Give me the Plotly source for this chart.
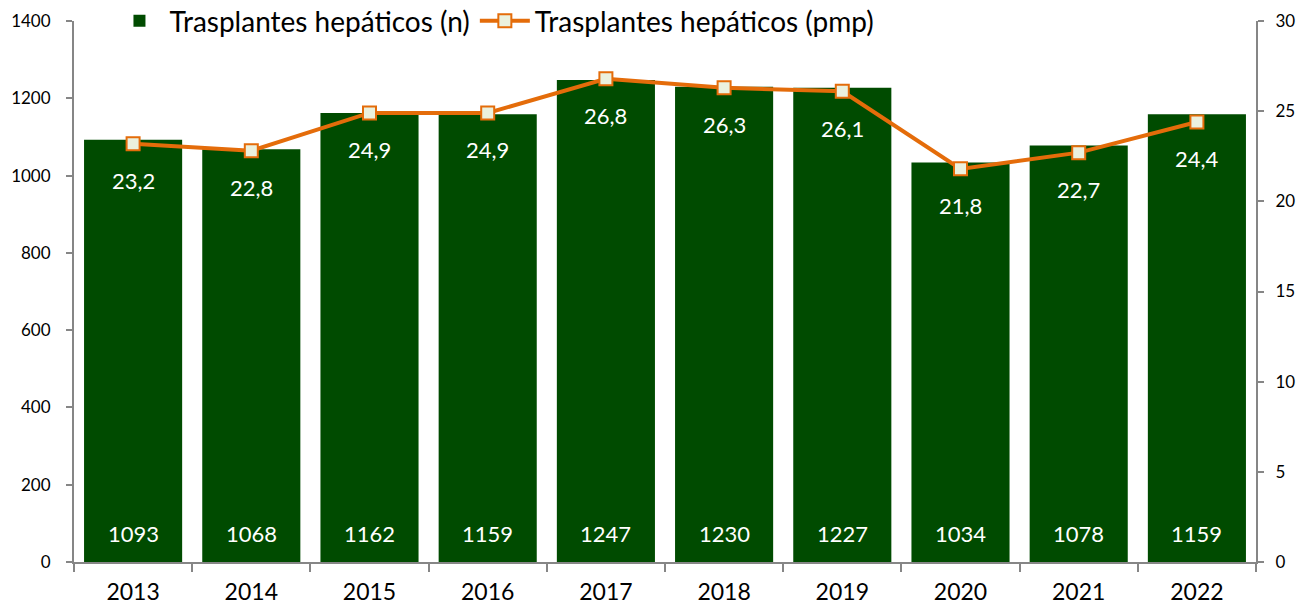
""" Trasplantes hepáticos - barras + línea pmp """

import plotly.graph_objs as go

anios = ['2013', '2014', '2015', '2016', '2017', '2018', '2019', '2020', '2021', '2022']
trasplantes_n = [1093, 1068, 1162, 1159, 1247, 1230, 1227, 1034, 1078, 1159]
trasplantes_pmp = [23.2, 22.8, 24.9, 24.9, 26.8, 26.3, 26.1, 21.8, 22.7, 24.4]

verde = 'rgb(0,75,0)'
naranja = '#E46C0A'
gris = '#868686'
fuente = 'Lato, Carlito, Calibri, sans-serif'

fig = go.Figure()

fig.add_trace(go.Bar(x=anios, y=trasplantes_n, name='Trasplantes hepáticos (n)',
                     marker_color=verde, marker_line_width=0))

fig.add_trace(go.Scatter(x=anios, y=trasplantes_pmp, name='Trasplantes hepáticos (pmp)',
                         yaxis='y2', mode='lines+markers',
                         line=dict(color=naranja, width=4),
                         marker=dict(symbol='square', size=13, color='#EBF1DE',
                                     line=dict(color=naranja, width=2))))

# x como índice de categoría: un texto '2013' se tomaría como índice 2013
# etiquetas de las barras (en la base, en blanco)
for i, n in enumerate(trasplantes_n):
    fig.add_annotation(x=i, y=0, xref='x', yref='y', text=str(n),
                       showarrow=False, yshift=29,
                       font=dict(color='white', size=22, family=fuente))

# etiquetas de la línea (debajo de cada punto, en blanco)
for i, v in enumerate(trasplantes_pmp):
    fig.add_annotation(x=i, y=v, xref='x', yref='y2',
                       text=('%.1f' % v).replace('.', ','),
                       showarrow=False, yshift=-37,
                       font=dict(color='white', size=22, family=fuente))

fig.update_layout(
    width=1313, height=610,
    margin=dict(l=74, r=57, t=21, b=48, autoexpand=False),
    paper_bgcolor='white', plot_bgcolor='white',
    font=dict(family=fuente, color='black'),
    bargap=0.17,
    showlegend=True,
    legend=dict(orientation='h', x=0.03, y=1.0, xanchor='left', yanchor='middle',
                font=dict(size=28, family=fuente), bgcolor='rgba(0,0,0,0)',
                itemwidth=50, traceorder='normal'),
    xaxis=dict(type='category', range=[-0.5, 9.5], showline=True, linecolor=gris,
               linewidth=2, ticks='outside', tickcolor=gris, ticklen=8, tickwidth=2,
               tickson='boundaries', tickfont=dict(size=23), ticklabelstandoff=8,
               showgrid=False),
    yaxis=dict(range=[0, 1400], dtick=200, showline=True, linecolor=gris,
               linewidth=2, ticks='outside', tickcolor=gris, ticklen=6, tickwidth=2,
               tickfont=dict(size=17), ticklabelstandoff=12, showgrid=False,
               zeroline=False),
    yaxis2=dict(range=[0, 30], dtick=5, overlaying='y', side='right',
                showline=True, linecolor=gris, linewidth=2, ticks='outside',
                tickcolor=gris, ticklen=6, tickwidth=2, tickfont=dict(size=17),
                ticklabelstandoff=8, showgrid=False, zeroline=False),
)

fig.write_html("out.html", config={'displayModeBar': False},
               post_script="document.body.style.margin='0';")
